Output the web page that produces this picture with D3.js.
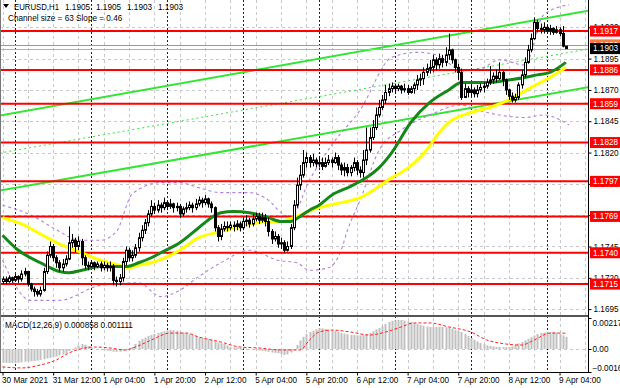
<!DOCTYPE html>
<html>
<head>
<meta charset="utf-8">
<script src="https://cdn.jsdelivr.net/npm/d3@7"></script>
<style>
  body { margin: 0; background: #fff; }
  svg { display: block; }
  text { font-family: "Liberation Sans", Arial, sans-serif; font-size: 8.2px; }
</style>
</head>
<body>
<svg id="chart" width="620" height="388"></svg>
<script>
// EURUSD H1 candles, 30 Mar 20:00 .. 9 Apr 06:00 (open = previous close)
const firstOpen = 1.1717;
const closes = [
  1.1719,1.1717,1.1720,1.1718,1.1721,1.1719,1.1723,1.1725,1.1715,1.1711,
  1.1709,1.1707,1.1710,1.1725,1.1738,1.1745,1.1736,1.1732,1.1728,1.1731,
  1.1735,1.1748,1.1750,1.1745,1.1749,1.1736,1.1730,1.1729,1.1732,1.1729,
  1.1731,1.1728,1.1730,1.1728,1.1729,1.1718,1.1717,1.1720,1.1733,1.1742,
  1.1736,1.1738,1.1744,1.1752,1.1758,1.1764,1.1771,1.1777,1.1774,1.1778,
  1.1776,1.1780,1.1777,1.1779,1.1776,1.1777,1.1771,1.1775,1.1776,1.1778,
  1.1776,1.1779,1.1782,1.1780,1.1783,1.1779,1.1776,1.1760,1.1753,1.1759,
  1.1761,1.1760,1.1762,1.1761,1.1763,1.1760,1.1765,1.1766,1.1763,1.1767,
  1.1769,1.1766,1.1768,1.1765,1.1757,1.1751,1.1753,1.1747,1.1748,1.1742,
  1.1745,1.1760,1.1778,1.1794,1.1802,1.1812,1.1816,1.1812,1.1814,1.1811,
  1.1812,1.1809,1.1812,1.1814,1.1812,1.1816,1.1810,1.1806,1.1808,1.1804,
  1.1808,1.1812,1.1806,1.1804,1.1814,1.1822,1.1832,1.1840,1.1850,1.1856,
  1.1862,1.1868,1.1871,1.1873,1.1871,1.1873,1.1870,1.1871,1.1868,1.1871,
  1.1874,1.1878,1.1879,1.1884,1.1887,1.1888,1.1894,1.1890,1.1895,1.1892,
  1.1898,1.1902,1.1894,1.1888,1.1884,1.1864,1.1871,1.1868,1.1870,1.1867,
  1.1870,1.1872,1.1873,1.1876,1.1878,1.1881,1.1879,1.1884,1.1878,1.1870,
  1.1865,1.1862,1.1864,1.1874,1.1882,1.1892,1.1902,1.1911,1.1924,1.1919,
  1.1918,1.1920,1.1917,1.1919,1.1916,1.1918,1.1915,1.1905,1.1903
];
const highs = [
  1.1721,1.1721,1.1722,1.1721,1.1723,1.1722,1.1726,1.1728,1.1725,1.1716,
  1.1713,1.1711,1.1713,1.1728,1.1741,1.1749,1.1747,1.1738,1.1734,1.1735,
  1.1738,1.1761,1.1755,1.1752,1.1753,1.1751,1.1738,1.1733,1.1734,1.1733,
  1.1733,1.1733,1.1733,1.1732,1.1733,1.1731,1.1721,1.1723,1.1736,1.1745,
  1.1744,1.1742,1.1747,1.1756,1.1762,1.1767,1.1774,1.1782,1.1780,1.1782,
  1.1780,1.1784,1.1781,1.1783,1.1780,1.1780,1.1779,1.1777,1.1780,1.1781,
  1.1780,1.1783,1.1785,1.1784,1.1786,1.1784,1.1781,1.1777,1.1762,1.1763,
  1.1765,1.1765,1.1765,1.1765,1.1766,1.1765,1.1768,1.1770,1.1768,1.1771,
  1.1772,1.1772,1.1772,1.1771,1.1768,1.1759,1.1757,1.1755,1.1752,1.1750,
  1.1749,1.1763,1.1782,1.1800,1.1810,1.1822,1.1820,1.1818,1.1819,1.1816,
  1.1817,1.1816,1.1816,1.1818,1.1816,1.1820,1.1818,1.1812,1.1812,1.1811,
  1.1810,1.1816,1.1814,1.1809,1.1822,1.1840,1.1840,1.1846,1.1856,1.1862,
  1.1866,1.1874,1.1875,1.1876,1.1875,1.1875,1.1874,1.1875,1.1874,1.1873,
  1.1876,1.1882,1.1883,1.1888,1.1891,1.1894,1.1898,1.1896,1.1899,1.1898,
  1.1904,1.1915,1.1903,1.1895,1.1891,1.1887,1.1875,1.1873,1.1874,1.1872,
  1.1874,1.1875,1.1876,1.1879,1.1889,1.1884,1.1886,1.1892,1.1885,1.1879,
  1.1871,1.1868,1.1867,1.1876,1.1886,1.1896,1.1906,1.1915,1.1928,1.1926,
  1.1923,1.1924,1.1922,1.1922,1.1920,1.1921,1.1920,1.1921,1.1905
];
const lows = [
  1.1715,1.1715,1.1716,1.1716,1.1717,1.1716,1.1717,1.1721,1.1713,1.1709,
  1.1705,1.1705,1.1705,1.1709,1.1723,1.1736,1.1733,1.1728,1.1725,1.1725,
  1.1729,1.1734,1.1744,1.1740,1.1742,1.1730,1.1727,1.1726,1.1728,1.1726,
  1.1728,1.1725,1.1726,1.1725,1.1725,1.1714,1.1713,1.1714,1.1717,1.1730,
  1.1733,1.1733,1.1736,1.1741,1.1749,1.1755,1.1761,1.1769,1.1771,1.1772,
  1.1772,1.1774,1.1774,1.1775,1.1772,1.1773,1.1768,1.1769,1.1772,1.1774,
  1.1772,1.1774,1.1777,1.1776,1.1778,1.1776,1.1772,1.1757,1.1749,1.1750,
  1.1757,1.1757,1.1758,1.1757,1.1758,1.1757,1.1758,1.1761,1.1760,1.1761,
  1.1765,1.1763,1.1764,1.1761,1.1753,1.1747,1.1749,1.1744,1.1743,1.1740,
  1.1741,1.1743,1.1758,1.1776,1.1790,1.1800,1.1808,1.1808,1.1809,1.1808,
  1.1808,1.1806,1.1808,1.1810,1.1808,1.1811,1.1806,1.1802,1.1801,1.1801,
  1.1801,1.1805,1.1802,1.1800,1.1800,1.1810,1.1820,1.1830,1.1838,1.1848,
  1.1854,1.1859,1.1865,1.1868,1.1867,1.1869,1.1867,1.1868,1.1866,1.1867,
  1.1867,1.1870,1.1873,1.1874,1.1881,1.1883,1.1884,1.1886,1.1887,1.1888,
  1.1889,1.1894,1.1891,1.1884,1.1878,1.1862,1.1864,1.1864,1.1865,1.1864,
  1.1864,1.1868,1.1868,1.1871,1.1874,1.1875,1.1876,1.1878,1.1873,1.1866,
  1.1862,1.1860,1.1860,1.1862,1.1871,1.1880,1.1891,1.1900,1.1910,1.1916,
  1.1915,1.1915,1.1915,1.1914,1.1914,1.1915,1.1913,1.1904,1.1903
];

// moving averages [bar, price]
const maGreen = [[0,1.1754],[5,1.1742],[12,1.1732],[18,1.1725],[21,1.1724],[25,1.1726],[31,1.1729],[39,1.1729],[43,1.1732],[47,1.1736],[50,1.1740],[56,1.1748],[62,1.1760],[66,1.1768],[69,1.1772],[73,1.1773],[78,1.1772],[84,1.1768],[88,1.1765],[91,1.1765],[94,1.1769],[97,1.1774],[100,1.1778],[104,1.1786],[110,1.1793],[115,1.1800],[119,1.1808],[123,1.1820],[129,1.1844],[135,1.1860],[141,1.1870],[145,1.1876],[148,1.1876],[154,1.1876],[160,1.1878],[165,1.1880],[169,1.1882],[173,1.1884],[178,1.1892]];
const maYellow = [[0,1.1768],[6,1.1763],[12,1.1755],[18,1.1747],[25,1.1740],[31,1.1734],[37,1.1730],[40,1.1728],[43,1.1730],[47,1.1732],[56,1.1742],[62,1.1752],[69,1.1757],[75,1.1761],[81,1.1764],[88,1.1765],[94,1.1770],[100,1.1776],[107,1.1780],[113,1.1784],[119,1.1793],[123,1.1800],[126,1.1804],[134,1.1822],[138,1.1836],[141,1.1844],[148,1.1852],[154,1.1856],[160,1.1862],[167,1.1872],[173,1.1880],[178,1.1888]];

// dashed bands [bar, price]
const bandUpper = [[0,1.1778],[9,1.1770],[18,1.1757],[24,1.1750],[31,1.1750],[36,1.1757],[41,1.1787],[50,1.1796],[56,1.1796],[62,1.1792],[69,1.1788],[78,1.1788],[84,1.1782],[88,1.1772],[91,1.1768],[97,1.1798],[104,1.1826],[113,1.1854],[123,1.1896],[131,1.1900],[137,1.1898],[145,1.1886],[151,1.1887],[157,1.1894],[165,1.1890],[171,1.1930],[179,1.1938]];
const bandLower = [[0,1.1734],[9,1.1702],[18,1.1702],[31,1.1714],[43,1.1716],[50,1.1705],[56,1.1710],[62,1.1721],[69,1.1732],[78,1.1742],[87,1.1734],[93,1.1732],[97,1.1726],[103,1.1728],[107,1.1742],[109,1.1758],[113,1.1782],[119,1.1822],[126,1.1838],[135,1.1850],[145,1.1858],[150,1.1854],[157,1.1850],[165,1.1848],[171,1.1850],[179,1.1842]];

// regression channel, price at first and last bar
const channelUpper = [1.1850, 1.1930];
const channelLower = [1.1790, 1.1869];

// support / resistance levels
const levels = [1.1917, 1.1886, 1.1859, 1.1828, 1.1797, 1.1769, 1.1740, 1.1715];
const priceTicks = [1.1920, 1.1895, 1.1870, 1.1845, 1.1820, 1.1795, 1.1770, 1.1745, 1.1720, 1.1695];
const bid = 1.1903, ask = 1.1906;

// header: symbol and last bar O H L C
const symbol = "EURUSD,H1";
const lastOHLC = ["1.1905", "1.1905", "1.1903", "1.1903"];

// time axis
const timeIdx = [0, 16, 32, 48, 64, 80, 96, 112, 128, 144, 160, 176];
const timeLabels = ["30 Mar 2021", "31 Mar 12:00", "1 Apr 04:00", "1 Apr 20:00", "2 Apr 12:00", "5 Apr 04:00",
  "5 Apr 20:00", "6 Apr 12:00", "7 Apr 04:00", "7 Apr 20:00", "8 Apr 12:00", "9 Apr 04:00"];
const dayStarts = [4, 28, 52, 76, 100, 124, 148, 172];

// MACD(12,26,9) main (histogram) per bar, signal [bar, value], in 1e-4
const macdMain = [
  -9.6,-9.8,-9.9,-9.9,-9.8,-9.6,-9.4,-9.0,-8.8,-8.7,-8.5,-8.2,-7.7,
  -7.2,-6.6,-6.3,-5.8,-5.2,-4.4,-3.8,-3.0,-1.5,0.0,1.2,2.5,
  3.5,3.0,2.0,1.0,0.3,-0.2,-0.6,-0.9,-1.2,-1.4,-1.8,-2.0,-1.9,
  -1.2,-0.2,0.5,1.5,3.5,5.8,7.0,8.0,9.2,9.8,10.5,11.2,11.9,
  12.5,13.0,13.3,13.2,12.8,12.0,11.5,11.0,10.3,9.8,9.0,8.0,
  7.5,7.2,6.8,6.3,5.5,4.5,4.0,3.5,2.5,1.5,1.2,1.0,0.7,
  0.4,0.2,-0.3,-0.6,-0.8,-1.0,-1.3,-1.6,-2.0,-2.5,-2.8,-3.0,-3.5,-4.2,-3.8,
  -2.5,-0.3,2.8,6.0,8.5,10.5,11.9,12.8,13.8,14.7,14.5,14.0,13.6,
  13.3,12.8,12.0,11.2,10.8,10.3,9.8,9.8,9.6,9.6,9.8,10.5,11.2,12.5,
  13.8,14.7,16.0,17.5,19.0,19.8,20.2,20.4,20.4,20.0,19.5,19.0,18.2,17.5,
  16.9,16.3,15.8,15.5,15.4,15.5,15.5,15.5,15.3,15.0,14.2,13.3,12.5,11.9,
  10.5,9.0,7.7,6.5,5.3,4.2,3.3,2.6,2.1,1.8,1.5,1.4,1.3,1.3,
  1.4,1.8,2.8,4.0,4.9,6.0,7.2,8.4,9.5,10.5,11.2,11.6,11.9,11.9,
  11.9,11.7,10.5,9.6,8.58
].map(v => v / 10000);
const macdSignal = [[0,-12.6],[6,-13.3],[12,-11.2],[17,-7.7],[21,-2.8],[26,0.7],[29,1.4],[34,0.7],[39,-0.7],[42,1.4],[47,6.3],[53,11.2],[58,11.2],[62,8.4],[69,4.9],[75,1.4],[81,0.7],[88,-0.7],[94,-0.7],[97,6.3],[100,11.9],[104,13.3],[110,11.9],[116,9.8],[121,11.9],[126,15.5],[130,18.3],[135,18.3],[141,15.5],[148,11.9],[153,6.3],[157,4.2],[164,2.8],[168,6.3],[173,11.2],[178,11.11]]
  .map(d => [d[0], d[1] / 10000]);
const macdMax = 0.002177, macdMin = -0.001616;

// ---------- drawing ----------
const svg = d3.select("#chart");
const plotRight = 588, mainTop = 0, mainBottom = 316, macdTop = 318, macdBottom = 372;

const x = d3.scaleLinear().domain([0, 178]).range([2.5, 2.5 + 178 * 3.165]);
const y = d3.scaleLinear().domain([1.16895, 1.19418]).range([mainBottom, mainTop]);
const ym = d3.scaleLinear().domain([macdMin, macdMax]).range([macdBottom, macdTop]);
const fmt4 = d3.format(".4f"), fmt6 = d3.format(".6f");

const bars = closes.map((c, i) => ({
  i, o: i === 0 ? firstOpen : closes[i - 1], h: highs[i], l: lows[i], c
}));

// grid
const grid = svg.append("g").attr("stroke", "#c8c8c8").attr("stroke-dasharray", "3,3");
d3.range(0, 190, 8).filter(i => x(i) < plotRight).forEach(i => {
  const gx = Math.round(x(i)) + 0.5;
  grid.append("line").attr("x1", gx).attr("x2", gx).attr("y1", mainTop).attr("y2", mainBottom);
  grid.append("line").attr("x1", gx).attr("x2", gx).attr("y1", macdTop).attr("y2", macdBottom);
});
priceTicks.forEach(p => {
  const gy = Math.round(y(p)) + 0.5;
  grid.append("line").attr("x1", 0).attr("x2", plotRight).attr("y1", gy).attr("y2", gy);
});
grid.append("line").attr("x1", 0).attr("x2", plotRight)
  .attr("y1", Math.round(ym(0)) + 0.5).attr("y2", Math.round(ym(0)) + 0.5);

// day separators
const sep = svg.append("g").attr("stroke", "#222").attr("stroke-dasharray", "2,2");
dayStarts.forEach(i => {
  const sx = Math.round(x(i)) + 0.5;
  sep.append("line").attr("x1", sx).attr("x2", sx).attr("y1", mainTop).attr("y2", macdBottom);
});

svg.append("clipPath").attr("id", "clipMain")
  .append("rect").attr("x", 0).attr("y", mainTop).attr("width", plotRight).attr("height", mainBottom - mainTop);
const main = svg.append("g").attr("clip-path", "url(#clipMain)");

// regression channel
const lastBar = 178, farBar = 188;
function chanLine(pr, dash) {
  const slope = (pr[1] - pr[0]) / lastBar;
  main.append("line")
    .attr("x1", x(0) - 3).attr("y1", y(pr[0] - slope))
    .attr("x2", x(farBar)).attr("y2", y(pr[0] + slope * farBar))
    .attr("stroke", "#33e633").attr("stroke-width", dash ? 1 : 2)
    .attr("stroke-dasharray", dash ? "2,3" : null);
}
chanLine(channelUpper, false);
chanLine(channelLower, false);
chanLine([(channelUpper[0] + channelLower[0]) / 2, (channelUpper[1] + channelLower[1]) / 2], true);

// dashed bands
const smooth = d3.line().x(d => x(d[0])).y(d => y(d[1])).curve(d3.curveMonotoneX);
[bandUpper, bandLower].forEach(b => {
  main.append("path").attr("d", smooth(b)).attr("fill", "none")
    .attr("stroke", "#b07fe0").attr("stroke-width", 1.1).attr("stroke-dasharray", "3,3");
});

// support / resistance lines
levels.forEach(p => {
  main.append("line").attr("x1", 0).attr("x2", plotRight)
    .attr("y1", y(p)).attr("y2", y(p)).attr("stroke", "#ff0000").attr("stroke-width", 2);
});

// ask / bid lines
main.append("line").attr("x1", 0).attr("x2", plotRight).attr("y1", Math.round(y(ask)) + 0.5).attr("y2", Math.round(y(ask)) + 0.5)
  .attr("stroke", "#ff7a3c").attr("stroke-width", 1);
main.append("line").attr("x1", 0).attr("x2", plotRight).attr("y1", Math.round(y(bid)) + 0.5).attr("y2", Math.round(y(bid)) + 0.5)
  .attr("stroke", "#b0b0b0").attr("stroke-width", 1);

// moving averages
main.append("path").attr("d", smooth(maYellow)).attr("fill", "none").attr("stroke", "#ffff00").attr("stroke-width", 3);
main.append("path").attr("d", smooth(maGreen)).attr("fill", "none").attr("stroke", "#16881a").attr("stroke-width", 3);

// candles
const cg = main.append("g");
bars.forEach(b => {
  const cx = Math.round(x(b.i)) + 0.5;
  cg.append("line").attr("x1", cx).attr("x2", cx).attr("y1", y(b.h)).attr("y2", y(b.l))
    .attr("stroke", "#000").attr("stroke-width", 1);
  const top = Math.min(y(b.o), y(b.c)), bot = Math.max(y(b.o), y(b.c));
  cg.append("rect").attr("x", cx - 1).attr("width", 2)
    .attr("y", top).attr("height", Math.max(bot - top, 0.8))
    .attr("fill", b.c >= b.o ? "#fff" : "#000").attr("stroke", "#000").attr("stroke-width", 1);
});

// MACD histogram + signal
const mg = svg.append("g");
macdMain.forEach((v, i) => {
  const bx = Math.round(x(i)) - 0.5;
  mg.append("rect").attr("x", bx).attr("width", 2)
    .attr("y", Math.min(ym(v), ym(0))).attr("height", Math.abs(ym(v) - ym(0)))
    .attr("fill", "#c0c0c0");
});
const sigLine = d3.line().x(d => x(d[0])).y(d => ym(d[1])).curve(d3.curveMonotoneX);
mg.append("path").attr("d", sigLine(macdSignal)).attr("fill", "none")
  .attr("stroke", "#ff2020").attr("stroke-width", 1).attr("stroke-dasharray", "3,2");

// frame
svg.append("rect").attr("x", 0).attr("y", mainBottom - 1).attr("width", plotRight).attr("height", 2).attr("fill", "#555");
svg.append("line").attr("x1", plotRight + 0.5).attr("x2", plotRight + 0.5).attr("y1", 0).attr("y2", macdBottom)
  .attr("stroke", "#000");
svg.append("line").attr("x1", 0).attr("x2", plotRight + 1).attr("y1", macdBottom + 0.5).attr("y2", macdBottom + 0.5)
  .attr("stroke", "#000");
svg.append("line").attr("x1", 0.5).attr("x2", 0.5).attr("y1", 0).attr("y2", macdBottom).attr("stroke", "#777");

// price axis
const pAxis = svg.append("g").attr("transform", `translate(${plotRight + 0.5},0)`)
  .call(d3.axisRight(y).tickValues(priceTicks).tickFormat(fmt4).tickSize(3).tickPadding(2));
pAxis.select(".domain").remove();
pAxis.selectAll("text").attr("font-size", "8.2px").attr("fill", "#000");

// MACD axis
const mAxis = svg.append("g").attr("transform", `translate(${plotRight + 0.5},0)`)
  .call(d3.axisRight(ym).tickValues([macdMax, 0, macdMin])
    .tickFormat(d => d === 0 ? "0.00" : fmt6(d)).tickSize(3).tickPadding(1));
mAxis.select(".domain").remove();
mAxis.selectAll("text").attr("font-size", "7.6px").attr("fill", "#000");
mAxis.selectAll(".tick").filter(d => d === macdMax).select("text").attr("dy", "0.9em");
mAxis.selectAll(".tick").filter(d => d === macdMin).select("text").attr("dy", "-0.2em");

// time axis
const tAxis = svg.append("g").attr("transform", `translate(0,${macdBottom + 0.5})`)
  .call(d3.axisBottom(x).tickValues(timeIdx).tickFormat((d, k) => timeLabels[k]).tickSize(3).tickPadding(2));
tAxis.select(".domain").remove();
tAxis.selectAll("text").attr("text-anchor", "start").attr("dx", "-1px").attr("font-size", "8px").attr("fill", "#000");

// level labels
function priceTag(p, fill) {
  const cy = y(p);
  svg.append("rect").attr("x", plotRight + 2).attr("y", cy - 5.5).attr("width", 30).attr("height", 11).attr("fill", fill);
  svg.append("text").attr("x", plotRight + 5).attr("y", cy).attr("dy", "0.35em").attr("fill", "#fff").text(fmt4(p));
}
levels.forEach(p => priceTag(p, "#ff0000"));
priceTag(ask, "#ff7a3c");
priceTag(bid, "#000");

// header texts
svg.append("path").attr("d", "M3,4 L9,4 L6,8 Z").attr("fill", "#000");
svg.append("text").attr("x", 14).attr("y", 10)
  .attr("textLength", 45).attr("lengthAdjust", "spacingAndGlyphs").text(symbol);
lastOHLC.forEach((v, k) => svg.append("text").attr("x", 65 + k * 31).attr("y", 10).text(v));
svg.append("text").attr("x", 8).attr("y", 21).attr("font-size", "8.6px").text("Channel size = 63 Slope = 0.46");
svg.append("text").attr("x", 5).attr("y", 328)
  .text("MACD(12,26,9) " + fmt6(macdMain[macdMain.length - 1]) + " " + fmt6(macdSignal[macdSignal.length - 1][1]));
</script>
</body>
</html>
